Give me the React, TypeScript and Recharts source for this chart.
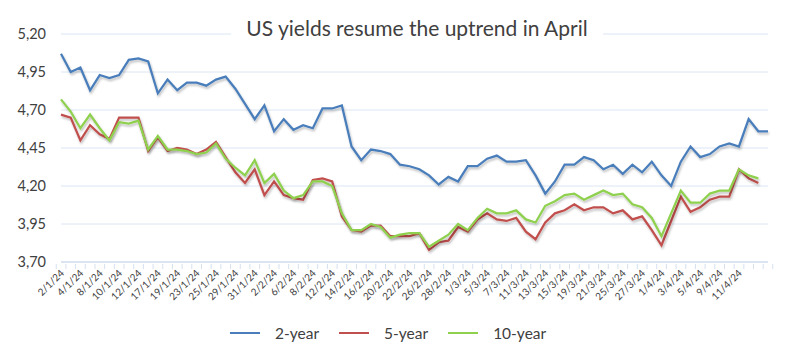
import React from 'react';
import { LineChart, Line, XAxis, YAxis, CartesianGrid } from 'recharts';

const dates = [
  '2/1/24', '3/1/24', '4/1/24', '5/1/24', '8/1/24', '9/1/24', '10/1/24', '11/1/24', '12/1/24', '16/1/24',
  '17/1/24', '18/1/24', '19/1/24', '22/1/24', '23/1/24', '24/1/24', '25/1/24', '26/1/24', '29/1/24', '30/1/24',
  '31/1/24', '1/2/24', '2/2/24', '5/2/24', '6/2/24', '7/2/24', '8/2/24', '9/2/24', '12/2/24', '13/2/24',
  '14/2/24', '15/2/24', '16/2/24', '19/2/24', '20/2/24', '21/2/24', '22/2/24', '23/2/24', '26/2/24', '27/2/24',
  '28/2/24', '29/2/24', '1/3/24', '4/3/24', '5/3/24', '6/3/24', '7/3/24', '8/3/24', '11/3/24', '12/3/24',
  '13/3/24', '14/3/24', '15/3/24', '18/3/24', '19/3/24', '20/3/24', '21/3/24', '22/3/24', '25/3/24', '26/3/24',
  '27/3/24', '28/3/24', '1/4/24', '2/4/24', '3/4/24', '4/4/24', '5/4/24', '8/4/24', '9/4/24', '10/4/24',
  '11/4/24', '', '', '',
];

const twoYear = [
  5.07, 4.95, 4.98, 4.83, 4.93, 4.91, 4.93, 5.03, 5.04, 5.02,
  4.81, 4.90, 4.83, 4.88, 4.88, 4.86, 4.90, 4.92, 4.84, 4.74,
  4.64, 4.73, 4.56, 4.64, 4.57, 4.60, 4.58, 4.71, 4.71, 4.73,
  4.46, 4.37, 4.44, 4.43, 4.41, 4.34, 4.33, 4.31, 4.27, 4.21,
  4.26, 4.23, 4.33, 4.33, 4.38, 4.40, 4.36, 4.36, 4.37, 4.27,
  4.15, 4.23, 4.34, 4.34, 4.39, 4.37, 4.31, 4.34, 4.28, 4.34,
  4.29, 4.36, 4.27, 4.20, 4.36, 4.46, 4.39, 4.41, 4.46, 4.48,
  4.46, 4.64, 4.56, 4.56,
];

const fiveYear = [
  4.67, 4.65, 4.50, 4.60, 4.54, 4.51, 4.65, 4.65, 4.65, 4.43,
  4.52, 4.43, 4.45, 4.44, 4.41, 4.44, 4.49, 4.39, 4.29, 4.22,
  4.31, 4.14, 4.23, 4.14, 4.12, 4.11, 4.24, 4.25, 4.23, 4.00,
  3.91, 3.90, 3.94, 3.94, 3.87, 3.87, 3.87, 3.89, 3.78, 3.83,
  3.84, 3.93, 3.90, 3.98, 4.02, 3.98, 3.97, 3.99, 3.90, 3.85,
  3.96, 4.02, 4.04, 4.08, 4.04, 4.06, 4.06, 4.02, 4.04, 3.98,
  4.00, 3.91, 3.81, 3.97, 4.13, 4.03, 4.06, 4.11, 4.13, 4.13,
  4.31, 4.25, 4.22, null,
];

const tenYear = [
  4.77, 4.69, 4.58, 4.67, 4.58, 4.50, 4.62, 4.61, 4.63, 4.44,
  4.53, 4.44, 4.44, 4.43, 4.41, 4.42, 4.48, 4.38, 4.32, 4.27,
  4.37, 4.22, 4.28, 4.17, 4.12, 4.14, 4.23, 4.23, 4.20, 4.02,
  3.91, 3.91, 3.95, 3.93, 3.86, 3.88, 3.89, 3.89, 3.80, 3.84,
  3.88, 3.95, 3.91, 3.99, 4.05, 4.02, 4.02, 4.04, 3.98, 3.96,
  4.07, 4.10, 4.14, 4.15, 4.11, 4.14, 4.17, 4.14, 4.15, 4.08,
  4.06, 3.99, 3.87, 4.02, 4.17, 4.09, 4.09, 4.15, 4.17, 4.17,
  4.31, 4.27, 4.25, null,
];

const yTicks = [3.7, 3.95, 4.2, 4.45, 4.7, 4.95, 5.2];

const series = [
  { key: 'y2', name: '2-year', color: '#4a7ebb' },
  { key: 'y5', name: '5-year', color: '#c0504d' },
  { key: 'y10', name: '10-year', color: '#8fd14f' },
];

const data = dates.map((d, i) => ({ date: d, y2: twoYear[i], y5: fiveYear[i], y10: tenYear[i] }));

const W = 794;
const H = 359;
const LEFT = 61;
const RIGHT = 768;
const TOP = 34;
const BOTTOM = 262;
const BAND = (RIGHT - LEFT) / dates.length;
const FONT = 'Lato, "Open Sans", sans-serif';
const AXIS_COLOR = '#d5e0ef';

const DateTick = (props: any) => {
  const { x, y, payload, index } = props;
  const i = payload?.index ?? index;
  return (
    <g>
      <line x1={x - BAND / 2} x2={x - BAND / 2} y1={y} y2={y + 5} stroke={AXIS_COLOR} />
      {i === dates.length - 1 && (
        <line x1={x + BAND / 2} x2={x + BAND / 2} y1={y} y2={y + 5} stroke={AXIS_COLOR} />
      )}
      {i % 2 === 0 && payload.value !== '' && (
        <text
          x={x + 2}
          y={y + 8}
          transform={`rotate(-45, ${x + 2}, ${y + 8})`}
          textAnchor="end"
          dominantBaseline="middle"
          fontSize={10}
          fill="#404040"
          fontFamily={FONT}
        >
          {payload.value}
        </text>
      )}
    </g>
  );
};

export default function App() {
  return (
    <div style={{ position: 'absolute', left: 0, top: 0, width: W, height: H, background: '#fff', fontFamily: FONT }}>
      <LineChart width={W} height={H} data={data} margin={{ top: TOP, right: W - RIGHT, bottom: 0, left: 0 }}>
        <defs>
          <filter id="lineShadow" x="-5%" y="-5%" width="110%" height="120%">
            <feDropShadow dx="1" dy="2" stdDeviation="1" floodColor="#000" floodOpacity="0.25" />
          </filter>
        </defs>
        <CartesianGrid vertical={false} stroke="#dce6f3" strokeWidth={1} />
        <XAxis
          dataKey="date"
          interval={0}
          tick={<DateTick />}
          tickLine={false}
          tickSize={0}
          axisLine={{ stroke: AXIS_COLOR, strokeWidth: 1.5 }}
          height={H - BOTTOM}
        />
        <YAxis
          domain={[3.7, 5.2]}
          ticks={yTicks}
          interval={0}
          width={LEFT}
          axisLine={false}
          tickLine={false}
          tickSize={0}
          tickMargin={15}
          tickFormatter={(v: number) => v.toFixed(2).replace('.', ',')}
          tick={{ fill: '#404040', fontSize: 14.5, fontFamily: FONT }}
        />
        {series.map((s) => (
          <Line
            key={s.key}
            dataKey={s.key}
            name={s.name}
            stroke={s.color}
            strokeWidth={2.25}
            dot={false}
            activeDot={false}
            type="linear"
            filter="url(#lineShadow)"
            isAnimationActive={false}
          />
        ))}
      </LineChart>
      <div
        style={{
          position: 'absolute',
          top: 14,
          left: 231,
          width: 372,
          textAlign: 'center',
          background: '#fff',
          fontSize: 21,
          lineHeight: '28px',
          color: '#404040',
        }}
      >
        US yields resume the uptrend in April
      </div>
      <div style={{ position: 'absolute', top: 324, left: 230, display: 'flex', alignItems: 'center', fontSize: 15.5, color: '#404040' }}>
        {series.map((s) => (
          <div key={s.key} style={{ display: 'flex', alignItems: 'center', marginRight: 20 }}>
            <div style={{ width: 30, height: 2.5, background: s.color, marginRight: 15 }} />
            <span>{s.name}</span>
          </div>
        ))}
      </div>
    </div>
  );
}
